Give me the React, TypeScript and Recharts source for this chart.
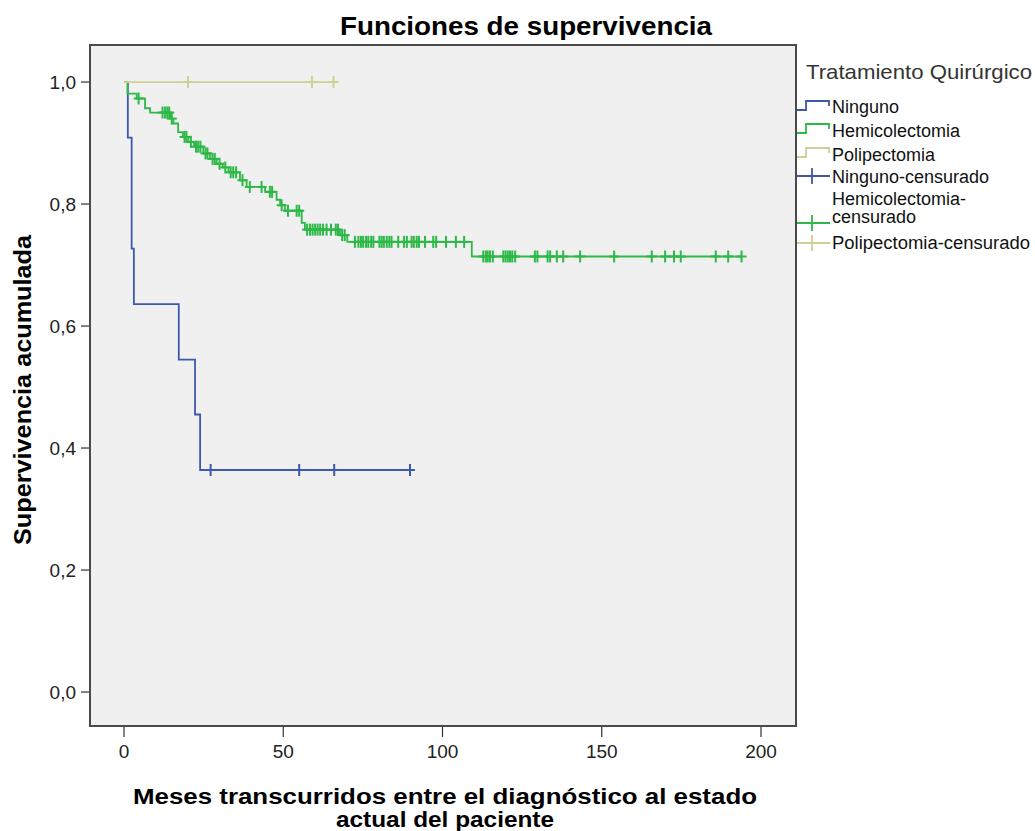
import React from 'react';
import { ComposedChart, Line, Scatter, XAxis, YAxis, CartesianGrid } from 'recharts';

// Kaplan-Meier steps (months, cumulative survival after each event)
const ningunoTimes = [0, 1.2, 2.4, 3.1, 17.2, 22.3, 23.9];
const ningunoSurv = [1, 0.909, 0.727, 0.636, 0.545, 0.455, 0.364];
const ningunoCensored = [27.2, 55.0, 66.0, 89.8];

const hemiTimes = [
  0, 1.1, 4.0, 6.6, 8.2, 14.5, 15.5, 17.0, 18.5, 20.2, 22.0, 24.9, 27.0, 29.1, 31.0,
  32.8, 36.4, 38.5, 44.3, 47.9, 49.0, 50.5, 55.8, 56.8, 67.8, 70.1, 109.2,
];
const hemiSurv = [
  1, 0.981, 0.973, 0.957, 0.95, 0.94, 0.932, 0.918, 0.91, 0.902, 0.894, 0.883, 0.874, 0.866, 0.86,
  0.852, 0.839, 0.828, 0.82, 0.807, 0.798, 0.789, 0.769, 0.758, 0.749, 0.738, 0.714,
];
const hemiCensored = [
  4.6, 12.1, 12.9, 13.6, 14.2, 15.0, 19.0, 19.6, 21.0, 22.6, 23.3, 24.0, 25.6, 26.2, 27.8,
  28.5, 30.0, 31.8, 33.5, 34.3, 35.2, 37.2, 39.5, 43.2, 45.8, 46.5, 49.5, 51.5, 54.2, 55.0,
  57.5, 58.4, 59.2, 60.0, 60.8, 61.6, 62.5, 63.6, 65.0, 66.5, 67.2, 68.5, 69.3,
  72.5, 73.6, 74.4, 75.1, 76.0, 76.7, 77.6, 78.3, 80.2, 80.9, 81.6, 82.5, 83.3, 84.0, 86.1,
  87.9, 88.8, 90.3, 91.0, 91.9, 92.6, 94.5, 97.1, 98.0, 101.1, 104.2, 106.8,
  112.8, 113.6, 114.2, 114.9, 115.8, 119.1, 119.8, 120.5, 121.2, 121.9, 122.8, 129.0, 129.8,
  133.0, 133.8, 135.9, 137.9, 143.2, 153.9, 165.7, 169.9, 172.7, 174.8, 185.8, 189.7, 193.9,
];

const polipTimes = [0];
const polipSurv = [1];
const polipCensored = [20.1, 59.0, 65.8];

const xTicks = [0, 50, 100, 150, 200];
const yTicks = [0, 0.2, 0.4, 0.6, 0.8, 1.0];

const BLUE = '#3E58AC';
const GREEN = '#2EB848';
const TAN = '#D3CE97';
const FONT = '"Liberation Sans", Arial, sans-serif';

type Pt = { t: number; s: number };

function survivalAt(times: number[], surv: number[], t: number) {
  let s = surv[0];
  for (let i = 0; i < times.length; i++) {
    if (times[i] <= t) s = surv[i];
  }
  return s;
}

function stepLine(times: number[], surv: number[], censored: number[]): Pt[] {
  const pts = times.map((t, i) => ({ t, s: surv[i] }));
  const end = Math.max(times[times.length - 1], ...censored);
  pts.push({ t: end, s: survivalAt(times, surv, end) });
  return pts;
}

function censorMarks(times: number[], surv: number[], censored: number[]): Pt[] {
  return censored.map((t) => ({ t, s: survivalAt(times, surv, t) }));
}

const plusShape = (color: string) => (props: any) => {
  const { cx, cy } = props;
  return (
    <g stroke={color} strokeWidth={2}>
      <line x1={cx} y1={cy - 6} x2={cx} y2={cy + 6} />
      <line x1={cx - 5} y1={cy} x2={cx + 5} y2={cy} />
    </g>
  );
};

const series = [
  { name: 'Ninguno', color: BLUE, times: ningunoTimes, surv: ningunoSurv, cens: ningunoCensored },
  { name: 'Hemicolectomia', color: GREEN, times: hemiTimes, surv: hemiSurv, cens: hemiCensored },
  { name: 'Polipectomia', color: TAN, times: polipTimes, surv: polipSurv, cens: polipCensored },
];

function StepIcon({ y, color }: { y: number; color: string }) {
  return (
    <path
      d={`M797 ${y} H806 V${y - 9} H829 V${y - 4}`}
      fill="none"
      stroke={color}
      strokeWidth={1.8}
    />
  );
}

function CensorIcon({ y, color }: { y: number; color: string }) {
  return (
    <g stroke={color} strokeWidth={1.8}>
      <line x1={797} y1={y} x2={830} y2={y} />
      <line x1={812} y1={y - 8} x2={812} y2={y + 8} />
    </g>
  );
}

function Overlay() {
  const txt = { fontFamily: FONT, fontSize: 18, fill: '#111' };
  return (
    <svg
      width={1035}
      height={831}
      style={{ position: 'absolute', left: 0, top: 0, pointerEvents: 'none' }}
    >
      <rect x={90} y={45} width={706} height={681} fill="none" stroke="#4a4a4a" strokeWidth={2} />
      <text
        x={526}
        y={35}
        textAnchor="middle"
        fontFamily={FONT}
        fontWeight="bold"
        fontSize={26}
        textLength={372}
        lengthAdjust="spacingAndGlyphs"
      >
        Funciones de supervivencia
      </text>
      <text
        transform="translate(31 390) rotate(-90)"
        textAnchor="middle"
        fontFamily={FONT}
        fontWeight="bold"
        fontSize={24}
        textLength={310}
        lengthAdjust="spacingAndGlyphs"
      >
        Supervivencia acumulada
      </text>
      <text
        x={445}
        y={804}
        textAnchor="middle"
        fontFamily={FONT}
        fontWeight="bold"
        fontSize={22}
        textLength={624}
        lengthAdjust="spacingAndGlyphs"
      >
        Meses transcurridos entre el diagnóstico al estado
      </text>
      <text
        x={445}
        y={827}
        textAnchor="middle"
        fontFamily={FONT}
        fontWeight="bold"
        fontSize={22}
        textLength={218}
        lengthAdjust="spacingAndGlyphs"
      >
        actual del paciente
      </text>

      <text x={806} y={79} fontFamily={FONT} fontSize={21} fill="#333" textLength={226} lengthAdjust="spacingAndGlyphs">
        Tratamiento Quirúrgico
      </text>
      <StepIcon y={110} color={BLUE} />
      <text x={832} y={113} {...txt}>Ninguno</text>
      <StepIcon y={133} color={GREEN} />
      <text x={832} y={137} {...txt}>Hemicolectomia</text>
      <StepIcon y={157} color={TAN} />
      <text x={832} y={161} {...txt}>Polipectomia</text>
      <CensorIcon y={176} color={BLUE} />
      <text x={832} y={183} {...txt}>Ninguno-censurado</text>
      <CensorIcon y={223} color={GREEN} />
      <text x={832} y={205} {...txt}>Hemicolectomia-</text>
      <text x={832} y={223} {...txt}>censurado</text>
      <CensorIcon y={243} color={TAN} />
      <text x={832} y={249} {...txt} textLength={198} lengthAdjust="spacingAndGlyphs">
        Polipectomia-censurado
      </text>
    </svg>
  );
}

export default function App() {
  return (
    <div style={{ position: 'absolute', left: 0, top: 0, width: 1035, height: 831, background: '#fff' }}>
      <ComposedChart
        width={1035}
        height={831}
        margin={{ top: 45, right: 239, bottom: 0, left: 0 }}
      >
        <CartesianGrid horizontal={false} vertical={false} fill="#f0f0f0" />
        <XAxis
          type="number"
          dataKey="t"
          domain={[-10.675, 210.99]}
          ticks={xTicks}
          allowDataOverflow
          height={105}
          axisLine={false}
          tickLine={{ stroke: '#333', strokeWidth: 1.2 }}
          tickSize={11}
          tickMargin={8}
          tick={{ fill: '#222', fontFamily: FONT, fontSize: 19 }}
        />
        <YAxis
          type="number"
          domain={[-0.0557, 1.0607]}
          ticks={yTicks}
          allowDataOverflow
          width={90}
          axisLine={false}
          tickLine={{ stroke: '#333', strokeWidth: 1.2 }}
          tickSize={9}
          tickMargin={5}
          tickFormatter={(v: number) => v.toFixed(1).replace('.', ',')}
          tick={{ fill: '#222', fontFamily: FONT, fontSize: 19 }}
        />
        {series.map((sr) => (
          <Line
            key={sr.name}
            data={stepLine(sr.times, sr.surv, sr.cens)}
            dataKey="s"
            type="stepAfter"
            stroke={sr.color}
            strokeWidth={1.8}
            dot={false}
            activeDot={false}
            isAnimationActive={false}
          />
        ))}
        {series.map((sr) => (
          <Scatter
            key={sr.name + '-c'}
            data={censorMarks(sr.times, sr.surv, sr.cens)}
            dataKey="s"
            shape={plusShape(sr.color)}
            isAnimationActive={false}
          />
        ))}
      </ComposedChart>
      <Overlay />
    </div>
  );
}
